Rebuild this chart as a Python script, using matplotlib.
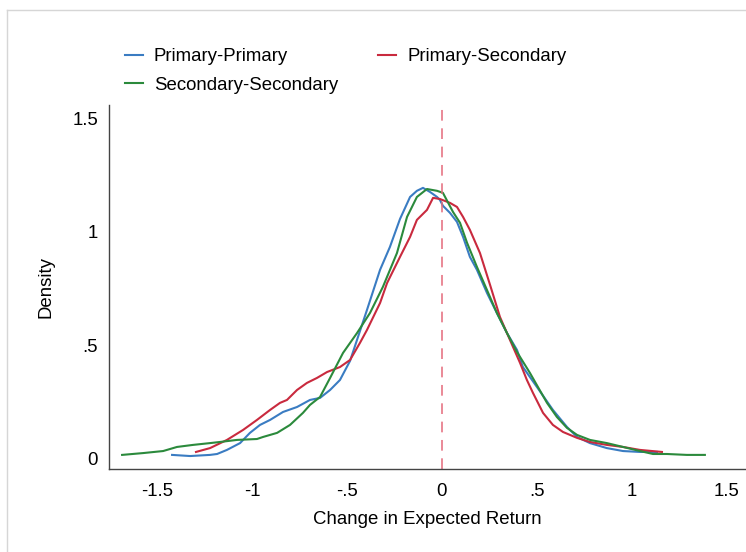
import numpy as np
import matplotlib
matplotlib.use("Agg")
import matplotlib.pyplot as plt
from matplotlib.lines import Line2D

plt.rcParams['font.family'] = ['Liberation Sans', 'DejaVu Sans']

# kernel density estimates
pp_x = [-1.421, -1.326, -1.221, -1.184, -1.132, -1.063, -1.011, -0.958, -0.905, -0.837,
        -0.763, -0.695, -0.642, -0.589, -0.537, -0.484, -0.395, -0.326, -0.274, -0.221,
        -0.168, -0.132, -0.100, -0.063, -0.026, -0.011, 0.005, 0.042, 0.079, 0.111,
        0.147, 0.184, 0.237, 0.289, 0.342, 0.395, 0.426, 0.500, 0.584, 0.658,
        0.711, 0.779, 0.868, 0.953, 1.042, 1.132]
pp_y = [0.018, 0.013, 0.018, 0.022, 0.040, 0.070, 0.115, 0.150, 0.172, 0.207,
        0.229, 0.260, 0.269, 0.304, 0.348, 0.432, 0.656, 0.833, 0.934, 1.057,
        1.154, 1.181, 1.194, 1.176, 1.154, 1.141, 1.115, 1.084, 1.044, 0.978,
        0.890, 0.833, 0.731, 0.643, 0.555, 0.480, 0.405, 0.317, 0.216, 0.141,
        0.097, 0.070, 0.048, 0.035, 0.031, 0.031]

ps_x = [-1.295, -1.221, -1.132, -1.047, -0.974, -0.905, -0.853, -0.816, -0.763, -0.711,
        -0.658, -0.605, -0.537, -0.484, -0.432, -0.395, -0.326, -0.289, -0.221, -0.168,
        -0.132, -0.079, -0.047, -0.011, 0.042, 0.079, 0.111, 0.147, 0.200, 0.253,
        0.305, 0.358, 0.411, 0.447, 0.479, 0.532, 0.584, 0.637, 0.711, 0.779,
        0.868, 0.953, 1.042, 1.158]
ps_y = [0.031, 0.048, 0.084, 0.128, 0.172, 0.216, 0.247, 0.260, 0.304, 0.335,
        0.357, 0.383, 0.405, 0.436, 0.511, 0.568, 0.687, 0.775, 0.890, 0.978,
        1.053, 1.097, 1.150, 1.145, 1.128, 1.110, 1.066, 1.009, 0.907, 0.767,
        0.626, 0.524, 0.423, 0.348, 0.291, 0.203, 0.150, 0.119, 0.093, 0.075,
        0.062, 0.053, 0.040, 0.031]

ss_x = [-1.684, -1.574, -1.468, -1.395, -1.311, -1.221, -1.168, -1.079, -0.974, -0.942,
        -0.868, -0.800, -0.732, -0.695, -0.642, -0.589, -0.521, -0.447, -0.379, -0.311,
        -0.237, -0.184, -0.132, -0.079, -0.026, 0.005, 0.058, 0.095, 0.132, 0.184,
        0.237, 0.289, 0.342, 0.395, 0.463, 0.553, 0.605, 0.658, 0.711, 0.779,
        0.868, 0.953, 1.042, 1.111, 1.184, 1.289, 1.384]
ss_y = [0.018, 0.026, 0.035, 0.053, 0.062, 0.070, 0.075, 0.084, 0.088, 0.097,
        0.115, 0.150, 0.203, 0.238, 0.273, 0.357, 0.467, 0.555, 0.643, 0.758,
        0.907, 1.066, 1.154, 1.189, 1.181, 1.172, 1.088, 1.040, 0.952, 0.846,
        0.744, 0.643, 0.555, 0.471, 0.379, 0.247, 0.185, 0.137, 0.106, 0.084,
        0.070, 0.053, 0.035, 0.022, 0.022, 0.018, 0.018]

xticks = [-1.5, -1, -0.5, 0, 0.5, 1, 1.5]
xtick_labels = ["-1.5", "-1", "-.5", "0", ".5", "1", "1.5"]
yticks = [0, 0.5, 1, 1.5]
ytick_labels = ["0", ".5", "1", "1.5"]

c_blue = "#3a7cc2"
c_red = "#c92a3e"
c_green = "#2b8a3c"
fs = 13.4

fig = plt.figure(figsize=(7.46, 5.52), dpi=100)
ax = fig.add_axes([0.1461, 0.1504, 0.8525, 0.6594])

l1, = ax.plot(pp_x, pp_y, color=c_blue, lw=1.5, label="Primary-Primary")
l2, = ax.plot(ps_x, ps_y, color=c_red, lw=1.5, label="Primary-Secondary")
l3, = ax.plot(ss_x, ss_y, color=c_green, lw=1.5, label="Secondary-Secondary")
ax.axvline(0, color="#e46a7a", lw=1.1, dashes=(7, 5))

ax.set_xlim(-1.753, 1.595)
ax.set_ylim(-0.044, 1.559)
ax.set_xticks(xticks)
ax.set_xticklabels(xtick_labels)
ax.set_yticks(yticks)
ax.set_yticklabels(ytick_labels)
ax.tick_params(axis="both", length=0, labelsize=fs)
ax.tick_params(axis="x", pad=10)
ax.tick_params(axis="y", pad=8)
for s in ["top", "right"]:
    ax.spines[s].set_visible(False)
for s in ["left", "bottom"]:
    ax.spines[s].set_color("#444444")
    ax.spines[s].set_linewidth(1.0)

ax.set_xlabel("Change in Expected Return", fontsize=fs, labelpad=8)
ax.set_ylabel("Density", fontsize=fs, labelpad=13)

fig.legend([l1, l3, l2], ["Primary-Primary", "Secondary-Secondary", "Primary-Secondary"],
           ncol=2, frameon=False, fontsize=fs, loc="upper left",
           bbox_to_anchor=(125 / 746, 1 - 48 / 552), borderpad=0, borderaxespad=0,
           handlelength=0.95, handletextpad=0.6, columnspacing=2.17, labelspacing=0.62)

# light grey frame of the exported graph
fig.add_artist(Line2D([7 / 746, 1], [1 - 10 / 552, 1 - 10 / 552], color="#d6d6d6", lw=1))
fig.add_artist(Line2D([7 / 746, 7 / 746], [0, 1 - 10 / 552], color="#d6d6d6", lw=1))

fig.savefig("out.png", dpi=100)
